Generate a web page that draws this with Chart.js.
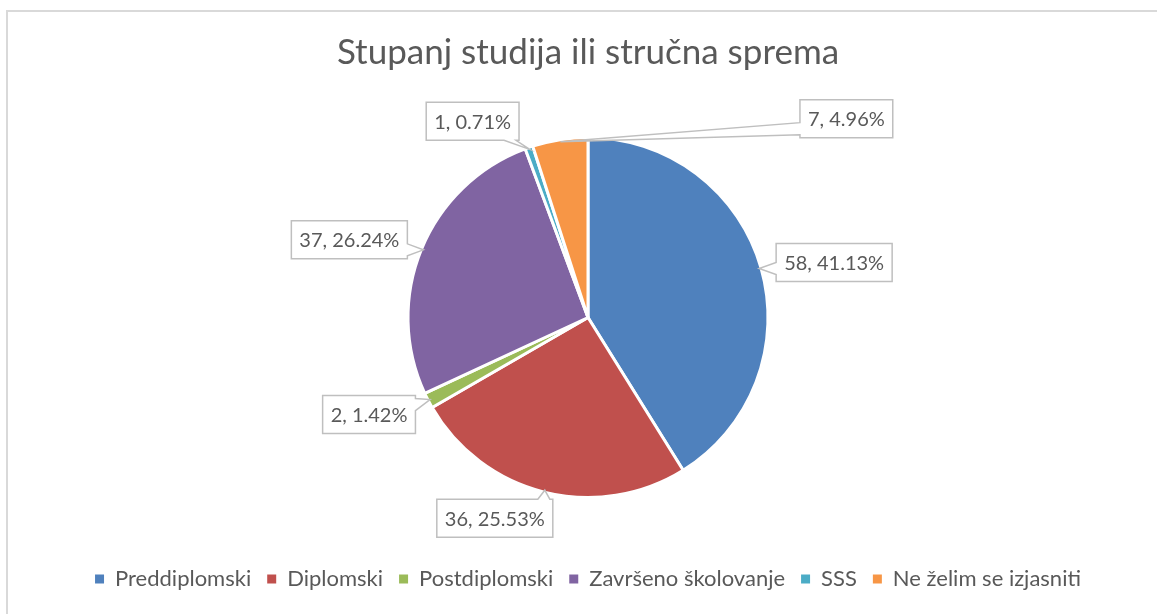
<!DOCTYPE html>
<html>
<head>
<meta charset="utf-8">
<script src="https://cdn.jsdelivr.net/npm/chart.js@4.4.1/dist/chart.umd.min.js"></script>
<style>
  html, body { margin: 0; padding: 0; background: #fff; overflow: hidden; }
  #frame { position: absolute; left: 6px; top: 10px; width: 2000px; height: 2000px;
           border-top: 2px solid #d9d9d9; border-left: 2px solid #d9d9d9; pointer-events: none; }
  #wrap { position: absolute; left: 0; top: 0; width: 1157px; height: 614px; }
</style>
</head>
<body>
<div id="wrap"><canvas id="chart"></canvas></div>
<div id="frame"></div>
<script>
const categories = ['Preddiplomski', 'Diplomski', 'Postdiplomski', 'Završeno školovanje', 'SSS', 'Ne želim se izjasniti'];
const counts = [58, 36, 2, 37, 1, 7];
const sliceColors = ['#4f81bd', '#c0504d', '#9bbb59', '#8064a2', '#4bacc6', '#f79646'];

// where each callout box sits, relative to the point on the slice edge it points at
const labelOffsets = [[75, -6], [-50, 28], [-61, 15], [-74, -10], [-57, -28], [286, -23]];

const FONT = 'Lato, "Open Sans", sans-serif';
const TEXT_COLOR = '#595959';

function clamp(v, lo, hi) { return Math.max(lo, Math.min(hi, v)); }

function calloutPath(ctx, x0, y0, x1, y1, tx, ty) {
  const half = 6;
  const dxOut = tx < x0 ? x0 - tx : (tx > x1 ? tx - x1 : 0);
  const dyOut = ty < y0 ? y0 - ty : (ty > y1 ? ty - y1 : 0);
  let side;
  if (dyOut * 2 > dxOut) side = ty < y0 ? 'top' : 'bottom';
  else side = tx < x0 ? 'left' : 'right';
  ctx.beginPath();
  ctx.moveTo(x0, y0);
  if (side === 'top') {
    const c = clamp(tx, x0 + half + 3, x1 - half - 3);
    ctx.lineTo(c - half, y0); ctx.lineTo(tx, ty); ctx.lineTo(c + half, y0);
  }
  ctx.lineTo(x1, y0);
  if (side === 'right') {
    const c = clamp(ty, y0 + half + 3, y1 - half - 3);
    ctx.lineTo(x1, c - half); ctx.lineTo(tx, ty); ctx.lineTo(x1, c + half);
  }
  ctx.lineTo(x1, y1);
  if (side === 'bottom') {
    const c = clamp(tx, x0 + half + 3, x1 - half - 3);
    ctx.lineTo(c + half, y1); ctx.lineTo(tx, ty); ctx.lineTo(c - half, y1);
  }
  ctx.lineTo(x0, y1);
  if (side === 'left') {
    const c = clamp(ty, y0 + half + 3, y1 - half - 3);
    ctx.lineTo(x0, c + half); ctx.lineTo(tx, ty); ctx.lineTo(x0, c - half);
  }
  ctx.closePath();
}

const calloutPlugin = {
  id: 'callouts',
  afterDatasetsDraw(chart) {
    const ctx = chart.ctx;
    const meta = chart.getDatasetMeta(0);
    const total = counts.reduce((a, b) => a + b, 0);
    ctx.save();
    ctx.font = '20px ' + FONT;
    meta.data.forEach((arc, i) => {
      const mid = (arc.startAngle + arc.endAngle) / 2;
      const r = arc.outerRadius - 2;
      const ax = arc.x + Math.cos(mid) * r;
      const ay = arc.y + Math.sin(mid) * r;
      const text = counts[i] + ', ' + (counts[i] / total * 100).toFixed(2) + '%';
      const w = ctx.measureText(text).width + 16;
      const h = 38;
      const cx = ax + labelOffsets[i][0];
      const cy = ay + labelOffsets[i][1];
      calloutPath(ctx, cx - w / 2, cy - h / 2, cx + w / 2, cy + h / 2, ax, ay);
      ctx.fillStyle = '#fff';
      ctx.fill();
      ctx.strokeStyle = '#bfbfbf';
      ctx.lineWidth = 1.5;
      ctx.stroke();
      ctx.fillStyle = TEXT_COLOR;
      ctx.textAlign = 'center';
      ctx.textBaseline = 'middle';
      ctx.fillText(text, cx, cy + 1);
    });
    ctx.restore();
  }
};

new Chart(document.getElementById('chart'), {
  type: 'pie',
  data: {
    labels: categories,
    datasets: [{
      data: counts,
      backgroundColor: sliceColors,
      borderColor: '#ffffff',
      borderWidth: 3,
      radius: 180
    }]
  },
  options: {
    responsive: true,
    maintainAspectRatio: false,
    animation: false,
    events: [],
    layout: { padding: { left: 19, right: 0, top: 0, bottom: 14 } },
    plugins: {
      title: {
        display: true,
        text: 'Stupanj studija ili stručna sprema',
        color: TEXT_COLOR,
        font: { family: FONT, size: 35, weight: 'normal' },
        padding: { top: 32, bottom: 9 }
      },
      legend: {
        position: 'bottom',
        labels: {
          color: TEXT_COLOR,
          font: { family: FONT, size: 22 },
          boxWidth: 9,
          boxHeight: 9,
          padding: 16,
          generateLabels(chart) {
            return Chart.overrides.pie.plugins.legend.labels.generateLabels(chart)
              .map(item => Object.assign(item, { lineWidth: 0, strokeStyle: item.fillStyle }));
          }
        }
      },
      tooltip: { enabled: false }
    }
  },
  plugins: [calloutPlugin]
});
</script>
</body>
</html>
